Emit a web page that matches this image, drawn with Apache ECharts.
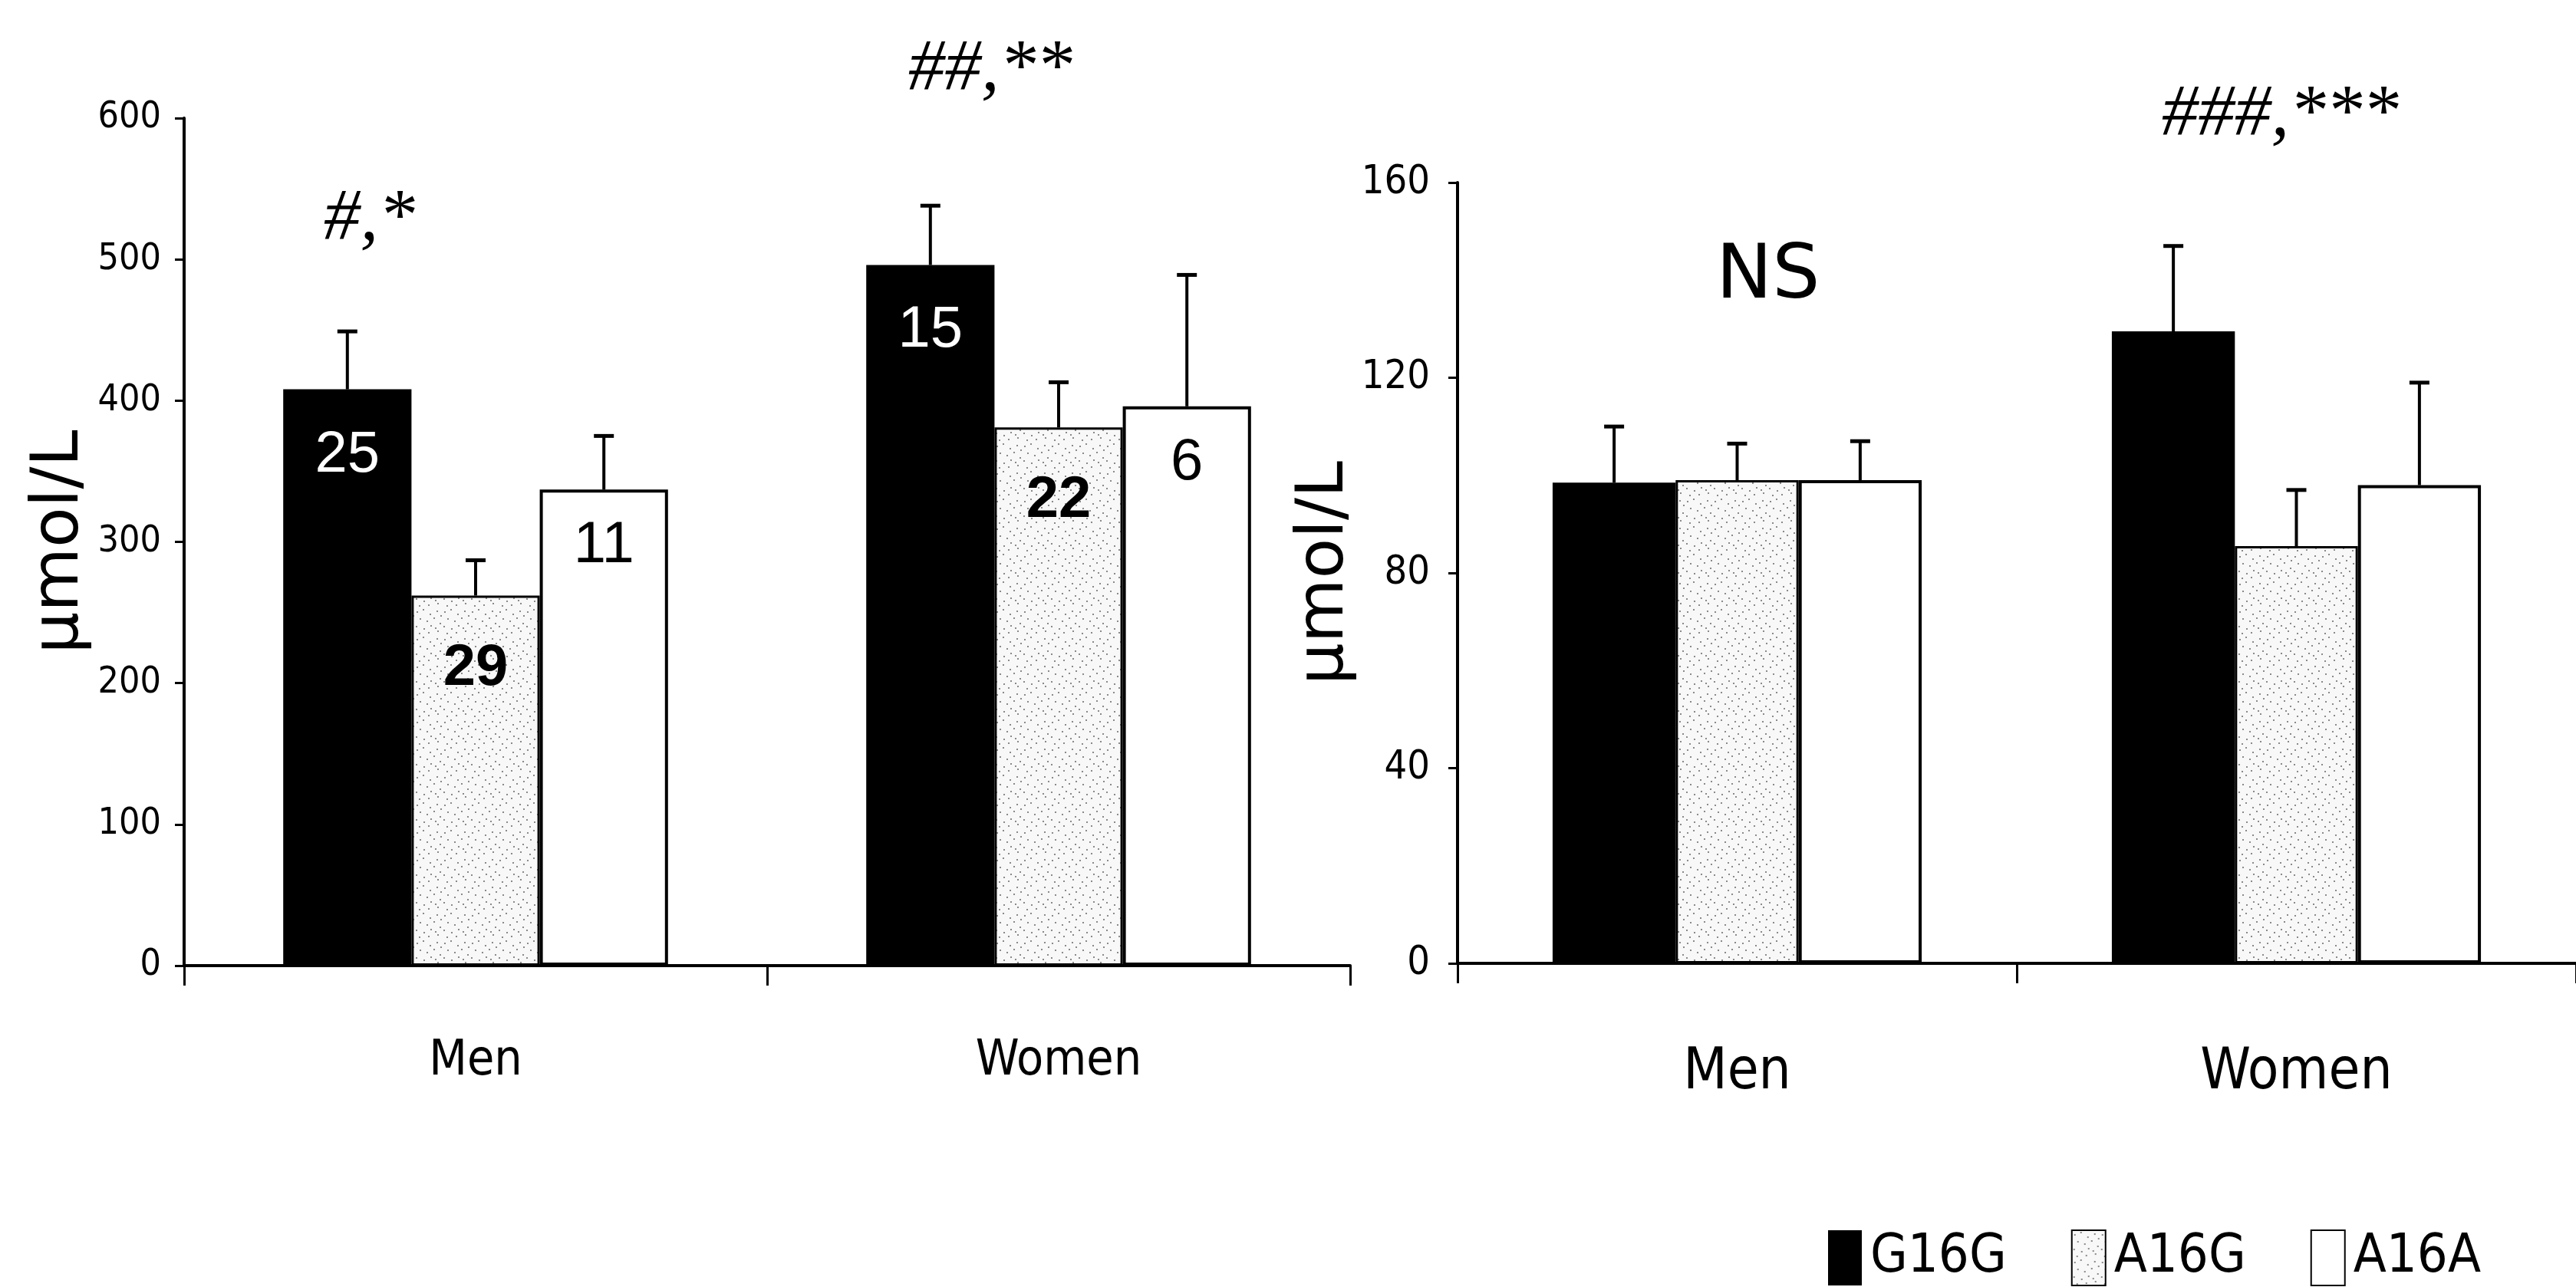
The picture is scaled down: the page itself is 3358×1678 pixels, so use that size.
<!DOCTYPE html>
<html><head><meta charset="utf-8">
<script src="https://cdn.jsdelivr.net/npm/echarts@6/dist/echarts.min.js"></script>
<style>html,body{margin:0;padding:0;background:#fff}#c{width:3358px;height:1678px}</style>
</head><body><div id="c"></div>
<script>
// ---- data ----
const categories = ['Men', 'Women'];
const genotypes = ['G16G', 'A16G', 'A16A'];
const yTitle = 'μmol/L';

// left panel
const leftTicks = [0, 100, 200, 300, 400, 500, 600];
const leftG16G = [408, 496];
const leftA16G = [262, 381];
const leftA16A = [337, 396];
const leftErrG16G = [449, 538];
const leftErrA16G = [287, 413];
const leftErrA16A = [375, 489];
const leftN_G16G = [25, 15];
const leftN_A16G = [29, 22];
const leftN_A16A = [11, 6];

// right panel
const rightTicks = [0, 40, 80, 120, 160];
const rightG16G = [98.5, 129.5];
const rightA16G = [99, 85.5];
const rightA16A = [99, 98];
const rightErrG16G = [110, 147];
const rightErrA16G = [106.5, 97];
const rightErrA16A = [107, 119];

const annotations = ['#,*', '##,**', 'NS', '###,***'];

// ---- styling helpers ----
const COND = '"DejaVu Sans Condensed", "DejaVu Sans", sans-serif';
function makePattern() {
  const c = document.createElement('canvas'); c.width = 36; c.height = 36;
  const g = c.getContext('2d');
  g.fillStyle = '#f8f8f8'; g.fillRect(0, 0, 36, 36);
  g.fillStyle = '#8a8a8a';
  const dots = [[3,5],[11,2],[20,8],[29,4],[7,14],[16,17],[25,13],[33,20],[2,24],[12,27],[21,23],[30,30],[6,33],[18,32],[27,26],[34,10]];
  dots.forEach(([x, y]) => g.fillRect(x, y, 2, 2));
  return c;
}
const dotted = { image: makePattern(), repeat: 'repeat' };
const GAP = 0.34;
const styles = [
  { color: '#000', borderColor: '#000', borderWidth: 0 },
  { color: dotted, borderColor: '#000', borderWidth: 3 },
  { color: '#fff', borderColor: '#000', borderWidth: 4 }
];

function barSeries(gi, name, vals, idx, nArr, labelCfg) {
  const s = {
    type: 'bar', name: name, xAxisIndex: gi, yAxisIndex: gi, data: vals,
    barCategoryGap: (GAP * 100) + '%', barGap: '0%',
    itemStyle: styles[idx], emphasis: { disabled: true }, z: 2
  };
  if (nArr) {
    s.label = Object.assign({
      show: true, position: 'insideTop',
      formatter: p => String(nArr[p.dataIndex]),
      fontFamily: 'Liberation Sans', fontSize: 76
    }, labelCfg);
  }
  return s;
}

function errSeries(gi, vals, tops, idx) {
  return {
    type: 'custom', name: 'err' + gi + idx, xAxisIndex: gi, yAxisIndex: gi, z: 10, silent: true,
    data: vals.map((v, i) => [i, v, tops[i]]),
    renderItem(params, api) {
      const ci = api.value(0);
      const band = api.size([1, 0])[0];
      const bw = band * (1 - GAP) / 3;
      const base = api.coord([ci, api.value(1)]);
      const top = api.coord([ci, api.value(2)]);
      const x = base[0] + (idx - 1) * bw;
      return { type: 'group', children: [
        { type: 'line', shape: { x1: x, y1: base[1], x2: x, y2: top[1] }, style: { stroke: '#000', lineWidth: 4 } },
        { type: 'line', shape: { x1: x - 13, y1: top[1], x2: x + 13, y2: top[1] }, style: { stroke: '#000', lineWidth: 5 } }
      ]};
    }
  };
}

function xAxisCfg(gi, fs, margin) {
  return {
    type: 'category', gridIndex: gi, data: categories,
    axisLine: { lineStyle: { color: '#000', width: 4 } },
    axisTick: { show: true, length: 26, lineStyle: { color: '#000', width: 3 } },
    axisLabel: { margin: margin, fontFamily: COND, fontSize: fs, color: '#000' }
  };
}
function yAxisCfg(gi, ticks, fs, margin) {
  return {
    type: 'value', gridIndex: gi, min: ticks[0], max: ticks[ticks.length - 1],
    interval: ticks[1] - ticks[0],
    splitLine: { show: false },
    axisLine: { show: true, lineStyle: { color: '#000', width: 4 } },
    axisTick: { show: true, length: 12, lineStyle: { color: '#000', width: 3 } },
    axisLabel: { margin: margin, fontFamily: COND, fontSize: fs, color: '#000' },
    name: yTitle, nameLocation: 'middle', nameGap: 118,
    nameTextStyle: { fontFamily: 'DejaVu Sans', fontSize: 86, color: '#000' }
  };
}

const chart = echarts.init(document.getElementById('c'), null, { renderer: 'canvas' });
chart.setOption({
  animation: false,
  backgroundColor: '#fff',
  grid: [
    { left: 240, top: 154, width: 1520, bottom: 419 },
    { left: 1900, top: 238, right: -46, bottom: 422 }
  ],
  xAxis: [xAxisCfg(0, 64, 93), xAxisCfg(1, 74, 107)],
  yAxis: [yAxisCfg(0, leftTicks, 48, 30), yAxisCfg(1, rightTicks, 52, 36)],
  legend: {
    data: genotypes, left: 2378, top: 1598, icon: 'rect',
    itemWidth: 44, itemHeight: 72, itemGap: 84,
    textStyle: { fontFamily: COND, fontSize: 70, color: '#000', padding: [0, 0, 0, 6] }
  },
  series: [
    barSeries(0, genotypes[0], leftG16G, 0, leftN_G16G, { color: '#fff', distance: 48 }),
    barSeries(0, genotypes[1], leftA16G, 1, leftN_A16G, { color: '#000', fontWeight: 'bold', distance: 58 }),
    barSeries(0, genotypes[2], leftA16A, 2, leftN_A16A, { color: '#000', distance: 36 }),
    barSeries(1, genotypes[0], rightG16G, 0),
    barSeries(1, genotypes[1], rightA16G, 1),
    barSeries(1, genotypes[2], rightA16A, 2),
    errSeries(0, leftG16G, leftErrG16G, 0),
    errSeries(0, leftA16G, leftErrA16G, 1),
    errSeries(0, leftA16A, leftErrA16A, 2),
    errSeries(1, rightG16G, rightErrG16G, 0),
    errSeries(1, rightA16G, rightErrA16G, 1),
    errSeries(1, rightA16A, rightErrA16A, 2)
  ],
  graphic: [
    { type: 'text', left: 422, top: 240, style: { text: annotations[0], font: 'italic 95px "Liberation Serif"', fill: '#000' } },
    { type: 'text', left: 1184, top: 45, style: { text: annotations[1], font: 'italic 95px "Liberation Serif"', fill: '#000' } },
    { type: 'text', left: 2237, top: 314, style: { text: annotations[2], font: '98px "DejaVu Sans"', fill: '#000' } },
    { type: 'text', left: 2818, top: 104, style: { text: annotations[3], font: 'italic 95px "Liberation Serif"', fill: '#000' } }
  ]
});
</script></body></html>
